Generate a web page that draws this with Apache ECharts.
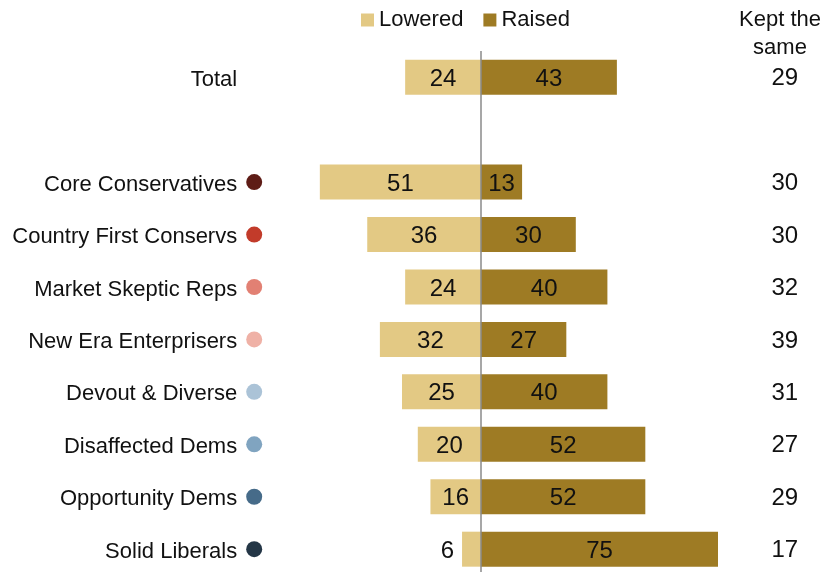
<!DOCTYPE html>
<html><head><meta charset="utf-8">
<script src="https://cdn.jsdelivr.net/npm/echarts@6/dist/echarts.min.js"></script>
<style>html,body{margin:0;padding:0;background:#fff}#c{width:826px;height:572px}</style>
</head><body><div id="c"></div>
<script>
var categories = ['Total', '', 'Core Conservatives', 'Country First Conservs', 'Market Skeptic Reps', 'New Era Enterprisers', 'Devout & Diverse', 'Disaffected Dems', 'Opportunity Dems', 'Solid Liberals'];
var lowered = [24, null, 51, 36, 24, 32, 25, 20, 16, 6];
var raised = [43, null, 13, 30, 40, 27, 40, 52, 52, 75];
var keptSame = ['29', '', '30', '30', '32', '39', '31', '27', '29', '17'];
var dotColors = [null, null, '#5e1c16', '#c23b2a', '#e28073', '#efb1a6', '#abc3d7', '#80a4c0', '#466b89', '#243646'];

var FONT = '"Liberation Sans", Arial, sans-serif';
var rich = { n: { fontSize: 22, fontFamily: FONT, color: '#111', padding: [5, 0, 0, 0] }, g: { width: 9 }, sp: { width: 25 } };
dotColors.forEach(function (c, i) {
  if (c) rich['d' + i] = { width: 16, height: 16, borderRadius: 8, backgroundColor: c };
});

var chart = echarts.init(document.getElementById('c'));
chart.setOption({
  animation: false,
  legend: {
    left: 356, top: 4, itemWidth: 13, itemHeight: 13, itemGap: 20,
    icon: 'rect',
    textStyle: { fontSize: 22, fontFamily: FONT, color: '#111' },
    data: ['Lowered', 'Raised']
  },
  graphic: [{
    type: 'text', x: 780, y: 6,
    style: { text: 'Kept the\nsame', fontSize: 22, fontFamily: FONT, fill: '#111', align: 'center', verticalAlign: 'top', lineHeight: 28 }
  }],
  grid: { left: 307.2, top: 51, width: 426.6, height: 524.4, outerBoundsMode: 'none', containLabel: false },
  xAxis: { type: 'value', min: -55, max: 80, show: false },
  yAxis: [{
    type: 'category', inverse: true, data: categories,
    axisLine: { show: false }, axisTick: { show: false },
    axisLabel: {
      margin: 45, rich: rich,
      formatter: function (v, i) {
        if (!v) return '';
        if (!dotColors[i]) return '{n|' + v + '}{sp|}';
        return '{n|' + v + '}{g|}{d' + i + '|}';
      }
    }
  }, {
    type: 'category', inverse: true, position: 'right', data: keptSame,
    axisLine: { show: false }, axisTick: { show: false },
    axisLabel: {
      margin: 51, align: 'center',
      rich: { v: { fontSize: 24, fontFamily: FONT, color: '#111', padding: [3, 0, 0, 0] } },
      formatter: function (v) { return v ? '{v|' + v + '}' : ''; }
    }
  }],
  series: [{
    name: 'Lowered', type: 'bar', stack: 'a', barWidth: 35,
    itemStyle: { color: '#e3c984' },
    data: lowered.map(function (v) {
      if (v === null) return null;
      var small = v < 10;
      return {
        value: -v,
        label: small ? { show: true, position: 'left', distance: 8 } : { show: true, position: 'inside' }
      };
    }),
    label: {
      show: true, fontSize: 24, fontFamily: FONT, color: '#111', offset: [0, 2],
      formatter: function (p) { return Math.abs(p.value); }
    },
    markLine: {
      silent: true, symbol: 'none', label: { show: false },
      lineStyle: { color: '#8a8a8a', width: 1.5, type: 'solid' },
      data: [{ xAxis: 0 }]
    }
  }, {
    name: 'Raised', type: 'bar', stack: 'a', barWidth: 35,
    itemStyle: { color: '#9e7b24' },
    data: raised,
    label: { show: true, position: 'inside', fontSize: 24, fontFamily: FONT, color: '#111', offset: [0, 2] }
  }]
});
</script></body></html>
